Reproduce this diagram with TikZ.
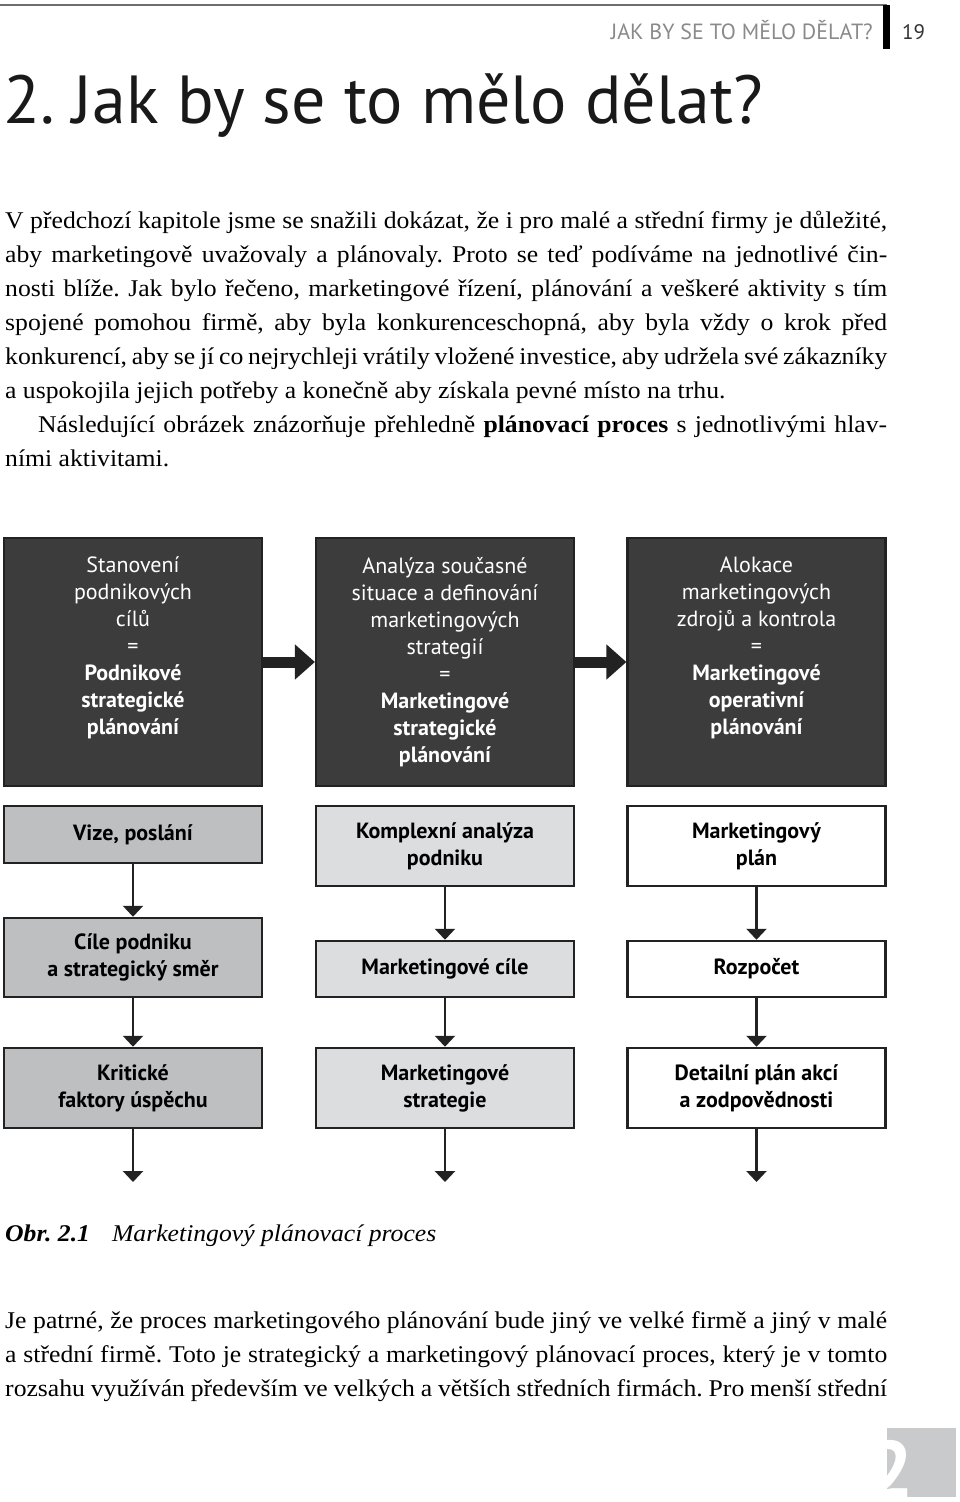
\documentclass[tikz,border=0pt]{standalone}
\usepackage{fontspec}
\setmainfont{Liberation Serif}[FakeStretch=1.07]
\newfontfamily\myriad{PT Sans}
\usetikzlibrary{arrows.meta,positioning}
\frenchspacing

\definecolor{boxdark}{HTML}{3C3C3C}
\definecolor{boxmid}{HTML}{BEBFC1}
\definecolor{boxlight}{HTML}{DCDDDF}
\definecolor{edgegrey}{HTML}{222222}
\definecolor{headgrey}{HTML}{8A8A8A}
\definecolor{tabgrey}{HTML}{C9CACC}

% one justified line of the page text
\newcommand{\jline}[2][882pt]{\makebox[#1][s]{#2}}
% top aligned text of the dark boxes
\newcommand{\plantext}[1]{\parbox[c][210pt][t]{250pt}{\centering #1}}

\begin{document}
\begin{tikzpicture}[x=1pt,y=-1pt,
		>={Triangle[width=20pt,length=11pt]},
		every node/.style={inner sep=0pt},
		textline/.style={anchor=base west,font=\fontsize{24}{34}\selectfont},
		planbox/.style={draw=edgegrey,line width=2.2pt,fill=boxdark,text=white,
			minimum width=258pt,minimum height=248pt,font=\myriad\fontsize{22}{27}\selectfont},
		stepbox/.style={draw=edgegrey,line width=2.5pt,minimum width=258pt,align=center,
			font=\myriad\bfseries\fontsize{22}{27}\selectfont},
		flow/.style={->,line width=2.5pt,draw=edgegrey},
		bigflow/.style={-{Triangle[width=34pt,length=20pt]},line width=11pt,draw=edgegrey}]
		
		\useasboundingbox[fill=white] (0,0) rectangle (960,1502);
		
		% page head
		\draw[headgrey!80!black,line width=1.2pt] (0,5) -- (887,5);
		\draw[black,line width=7pt] (886.5,5) -- (886.5,49);
		\node[anchor=base east,text=headgrey,font=\myriad\fontsize{22}{24}\selectfont] (runhead) at (873,39) {JAK BY SE TO MĚLO DĚLAT?};
		\node[anchor=base west,text=black!80,font=\myriad\fontsize{21}{24}\selectfont] (pageno) at (902,39) {19};
		\node[anchor=base west,text=black!90,font=\myriad\fontsize{68}{72}\selectfont] (chapter) at (3,123) {2. Jak by se to mělo dělat?};
		
		% text above the figure
		\node[textline] (intro1) at (5,228) {\jline{V předchozí kapitole jsme se snažili dokázat, že i pro malé a střední firmy je důležité,}};
		\node[textline] (intro2) at (5,262) {\jline{aby marketingově uvažovaly a plánovaly. Proto se teď podíváme na jednotlivé čin-}};
		\node[textline] (intro3) at (5,296) {\jline{nosti blíže. Jak bylo řečeno, marketingové řízení, plánování a veškeré aktivity s tím}};
		\node[textline] (intro4) at (5,330) {\jline{spojené pomohou firmě, aby byla konkurenceschopná, aby byla vždy o krok před}};
		\node[textline] (intro5) at (5,364) {\jline{konkurencí, aby se jí co nejrychleji vrátily vložené investice, aby udržela své zákazníky}};
		\node[textline] (intro6) at (5,398) {a uspokojila jejich potřeby a konečně aby získala pevné místo na trhu.};
		\node[textline] (intro7) at (38,432) {\jline[849pt]{Následující obrázek znázorňuje přehledně \textbf{plánovací proces} s jednotlivými hlav-}};
		\node[textline] (intro8) at (5,466) {ními aktivitami.};
		
		% dark boxes
		\node[planbox] (stanov) at (133,662) {\plantext{Stanovení\\podnikových\\cílů\\=\\\textbf{Podnikové}\\\textbf{strategické}\\\textbf{plánování}}};
		\node[planbox] (analyza) at (445,662) {\plantext{Analýza současné\\situace a definování\\marketingových\\strategií\\=\\\textbf{Marketingové}\\\textbf{strategické}\\\textbf{plánování}}};
		\node[planbox] (alokace) at (756.5,662) {\plantext{Alokace\\marketingových\\zdrojů a kontrola\\=\\\textbf{Marketingové}\\\textbf{operativní}\\\textbf{plánování}}};
		\draw[bigflow] (stanov.east) -- (analyza.west);
		\draw[bigflow] (analyza.east) -- (alokace.west);
		
		% left column
		\node[stepbox,fill=boxmid,minimum height=57pt] (vize) at (133,834.5) {Vize, poslání};
		\node[stepbox,fill=boxmid,minimum height=79pt] (cile) at (133,957.5) {Cíle podniku\\a strategický směr};
		\node[stepbox,fill=boxmid,minimum height=80pt] (faktory) at (133,1088) {Kritické\\faktory úspěchu};
		\coordinate (faktoryend) at (133,1182);
		
		% middle column
		\node[stepbox,fill=boxlight,minimum height=80pt] (komplex) at (445,846) {Komplexní analýza\\podniku};
		\node[stepbox,fill=boxlight,minimum height=56pt] (mcile) at (445,969) {Marketingové cíle};
		\node[stepbox,fill=boxlight,minimum height=80pt] (mstrat) at (445,1088) {Marketingové\\strategie};
		\coordinate (mstratend) at (445,1182);
		
		% right column
		\node[stepbox,fill=white,minimum height=80pt] (mplan) at (756.5,846) {Marketingový\\plán};
		\node[stepbox,fill=white,minimum height=56pt] (rozpocet) at (756.5,969) {Rozpočet};
		\node[stepbox,fill=white,minimum height=80pt] (detail) at (756.5,1088) {Detailní plán akcí\\a zodpovědnosti};
		\coordinate (detailend) at (756.5,1182);
		
		\draw[flow] (vize.south) -- (cile.north);
		\draw[flow] (cile.south) -- (faktory.north);
		\draw[flow] (faktory.south) -- (faktoryend);
		\draw[flow] (komplex.south) -- (mcile.north);
		\draw[flow] (mcile.south) -- (mstrat.north);
		\draw[flow] (mstrat.south) -- (mstratend);
		\draw[flow] (mplan.south) -- (rozpocet.north);
		\draw[flow] (rozpocet.south) -- (detail.north);
		\draw[flow] (detail.south) -- (detailend);
		
		% caption and text below
		\node[textline] (caption) at (5,1241) {\textbf{\textit{Obr. 2.1}}\hspace{22pt}\textit{Marketingový plánovací proces}};
		\node[textline] (outro1) at (5,1328) {\jline{Je patrné, že proces marketingového plánování bude jiný ve velké firmě a jiný v malé}};
		\node[textline] (outro2) at (5,1362) {\jline{a střední firmě. Toto je strategický a marketingový plánovací proces, který je v tomto}};
		\node[textline] (outro3) at (5,1396) {\jline{rozsahu využíván především ve velkých a větších středních firmách. Pro menší střední}};
		
		% chapter tab
		\fill[tabgrey] (887,1428) rectangle (956,1497);
		\begin{scope}
			\clip (887,1428) rectangle (956,1497);
			\node[anchor=base east,text=white,font=\myriad\bfseries\fontsize{80}{80}\selectfont] (tabno) at (914,1497) {2};
		\end{scope}
		\end{tikzpicture}
\end{document}
